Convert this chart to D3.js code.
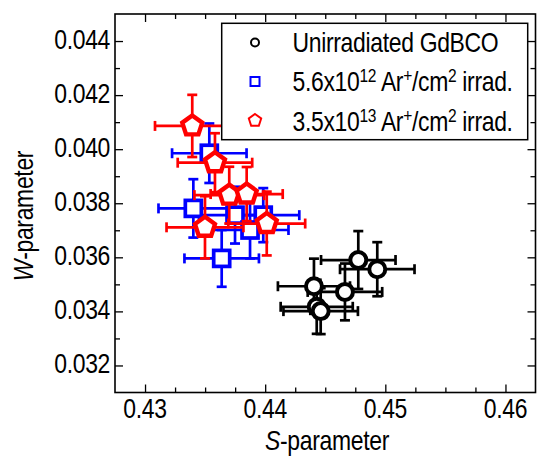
<!DOCTYPE html>
<html><head><meta charset="utf-8">
<script src="https://cdn.jsdelivr.net/npm/d3@7"></script>
<style>
body{margin:0;background:#fff}
svg text{font-family:"Liberation Sans",Arial,sans-serif;fill:#000}
</style>
</head><body>
<svg id="chart" width="537" height="457"></svg>
<script>
// ---- data ----
const seriesNames = ["Unirradiated GdBCO", "5.6x10^12", "3.5x10^13"];
const seriesColors = ["#000000", "#0000ff", "#ff0000"];

const unirrS    = [0.44775, 0.44933, 0.44406, 0.44664, 0.44429, 0.44462];
const unirrW    = [0.03590, 0.03556, 0.03493, 0.03472, 0.03417, 0.03401];
const unirrSErr = [0.0031, 0.0031, 0.0030, 0.0031, 0.0030, 0.0031];
const unirrWErr = [0.00107, 0.00100, 0.00102, 0.00105, 0.00100, 0.00085];

const lowS    = [0.43535, 0.43402, 0.43749, 0.43984, 0.43874, 0.43638];
const lowW    = [0.03985, 0.03781, 0.03756, 0.03756, 0.03701, 0.03596];
const lowSErr = [0.0031, 0.0029, 0.0030, 0.0030, 0.0032, 0.0031];
const lowWErr = [0.00110, 0.00108, 0.00105, 0.00100, 0.00105, 0.00105];

const highS    = [0.43393, 0.43582, 0.43701, 0.43846, 0.43499, 0.44013];
const highW    = [0.04086, 0.03950, 0.03830, 0.03834, 0.03711, 0.03725];
const highSErr = [0.0031, 0.0031, 0.0029, 0.0030, 0.0032, 0.0032];
const highWErr = [0.00115, 0.00109, 0.00105, 0.00100, 0.00115, 0.00118];

const xTickLabels = [0.43, 0.44, 0.45, 0.46];
const yTickLabels = [0.032, 0.034, 0.036, 0.038, 0.040, 0.042, 0.044];
const xDomain = [0.4275, 0.4625];
const yDomain = [0.031, 0.045];

// ---- layout ----
const svg = d3.select("#chart");
const L = 115, R = 535.5, T = 14, B = 392.5;
const x = d3.scaleLinear().domain(xDomain).range([L, R]);
const y = d3.scaleLinear().domain(yDomain).range([B, T]);

const FS = 28, SX = 0.82, LS = "-0.4px";

const xMinor = d3.range(0, 15).map(i => 0.4275 + i * 0.0025).filter(v => v > xDomain[0] + 1e-9 && v < xDomain[1] - 1e-9);
const yMinor = d3.range(0, 15).map(i => 0.031 + i * 0.001).filter(v => v > yDomain[0] + 1e-9 && v < yDomain[1] - 1e-9);
function isMajor(v, arr){ return arr.some(t => Math.abs(t - v) < 1e-7); }

const axG = svg.append("g");
const xAxisB = d3.axisBottom(x).tickValues(xMinor).tickSizeInner(-5).tickSizeOuter(0).tickFormat("");
const xAxisT = d3.axisTop(x).tickValues(xMinor).tickSizeInner(-5).tickSizeOuter(0).tickFormat("");
const yAxisL = d3.axisLeft(y).tickValues(yMinor).tickSizeInner(-5).tickSizeOuter(0).tickFormat("");
const yAxisR = d3.axisRight(y).tickValues(yMinor).tickSizeInner(-5).tickSizeOuter(0).tickFormat("");

function styleAx(g, majors){
  g.select(".domain").remove();
  g.selectAll(".tick line").attr("stroke", "#000").attr("stroke-width", 1.3);
  g.selectAll(".tick").each(function(d){
    if (isMajor(d, majors)) {
      const ln = d3.select(this).select("line");
      if (ln.attr("y2") !== null && +ln.attr("y2") !== 0) ln.attr("y2", +ln.attr("y2") > 0 ? 8 : -8);
      if (ln.attr("x2") !== null && +ln.attr("x2") !== 0) ln.attr("x2", +ln.attr("x2") > 0 ? 8 : -8);
    }
  });
}
axG.append("g").attr("transform", `translate(0,${B})`).call(xAxisB).call(g => styleAx(g, xTickLabels));
axG.append("g").attr("transform", `translate(0,${T})`).call(xAxisT).call(g => styleAx(g, xTickLabels));
axG.append("g").attr("transform", `translate(${L},0)`).call(yAxisL).call(g => styleAx(g, yTickLabels));
axG.append("g").attr("transform", `translate(${R},0)`).call(yAxisR).call(g => styleAx(g, yTickLabels));

svg.append("rect").attr("x", L).attr("y", T).attr("width", R - L).attr("height", B - T)
  .attr("fill", "none").attr("stroke", "#000").attr("stroke-width", 1.6);

// tick labels (condensed via horizontal scale)
svg.append("g").selectAll("text").data(xTickLabels).join("text")
  .attr("transform", d => `translate(${x(d)},418) scale(${SX},1)`).attr("text-anchor", "middle")
  .attr("font-size", FS).attr("letter-spacing", LS)
  .text(d => d3.format(".2f")(d));
svg.append("g").selectAll("text").data(yTickLabels).join("text")
  .attr("transform", d => `translate(110,${y(d) + 7.5}) scale(${SX},1)`).attr("text-anchor", "end")
  .attr("font-size", FS).attr("letter-spacing", LS)
  .text(d => d3.format(".3f")(d));

// axis titles
const xt = svg.append("text").attr("transform", `translate(327,450) scale(${SX},1)`).attr("text-anchor", "middle")
  .attr("font-size", FS).attr("letter-spacing", LS);
xt.append("tspan").attr("font-style", "italic").text("S");
xt.append("tspan").text("-parameter");
const yt = svg.append("text").attr("transform", `translate(32.5,216) rotate(-90) scale(${SX},1)`)
  .attr("text-anchor", "middle").attr("font-size", FS).attr("letter-spacing", LS);
yt.append("tspan").attr("font-style", "italic").text("W");
yt.append("tspan").text("-parameter");

// ---- markers ----
function pentagonPath(r){
  const pts = d3.range(5).map(i => {
    const a = -Math.PI / 2 + i * 2 * Math.PI / 5;
    return [r * Math.cos(a), r * Math.sin(a)];
  });
  return "M" + pts.map(p => p.join(",")).join("L") + "Z";
}
function drawMarker(g, type, color, size, sw){
  if (type === "circle") g.append("circle").attr("r", size).attr("fill", "#fff").attr("stroke", color).attr("stroke-width", sw);
  else if (type === "square") g.append("rect").attr("x", -size).attr("y", -size).attr("width", 2 * size).attr("height", 2 * size)
      .attr("fill", "#fff").attr("stroke", color).attr("stroke-width", sw);
  else g.append("path").attr("d", pentagonPath(size)).attr("fill", "#fff").attr("stroke", color).attr("stroke-width", sw).attr("stroke-linejoin", "miter");
}

function drawSeries(S, W, SE, WE, color, type, size, sw){
  const g = svg.append("g");
  const data = S.map((s, i) => ({s, w: W[i], se: SE[i], we: WE[i]}));
  const cap = 5;
  data.forEach(d => {
    const eg = g.append("g").attr("stroke", color).attr("stroke-width", 2.7);
    eg.append("line").attr("x1", x(d.s - d.se)).attr("x2", x(d.s + d.se)).attr("y1", y(d.w)).attr("y2", y(d.w));
    eg.append("line").attr("x1", x(d.s)).attr("x2", x(d.s)).attr("y1", y(d.w - d.we)).attr("y2", y(d.w + d.we));
    eg.append("line").attr("x1", x(d.s - d.se)).attr("x2", x(d.s - d.se)).attr("y1", y(d.w) - cap).attr("y2", y(d.w) + cap);
    eg.append("line").attr("x1", x(d.s + d.se)).attr("x2", x(d.s + d.se)).attr("y1", y(d.w) - cap).attr("y2", y(d.w) + cap);
    eg.append("line").attr("y1", y(d.w - d.we)).attr("y2", y(d.w - d.we)).attr("x1", x(d.s) - cap).attr("x2", x(d.s) + cap);
    eg.append("line").attr("y1", y(d.w + d.we)).attr("y2", y(d.w + d.we)).attr("x1", x(d.s) - cap).attr("x2", x(d.s) + cap);
  });
  data.forEach(d => {
    const mg = g.append("g").attr("transform", `translate(${x(d.s)},${y(d.w)})`);
    drawMarker(mg, type, color, size, sw);
  });
}

drawSeries(lowS, lowW, lowSErr, lowWErr, seriesColors[1], "square", 8, 3.7);
drawSeries(highS, highW, highSErr, highWErr, seriesColors[2], "pentagon", 10.5, 4.4);
drawSeries(unirrS, unirrW, unirrSErr, unirrWErr, seriesColors[0], "circle", 8, 4);

// ---- legend ----
const lg = svg.append("g");
lg.append("rect").attr("x", 221.7).attr("y", 23.3).attr("width", 306).attr("height", 116.4)
  .attr("fill", "#fff").attr("stroke", "#000").attr("stroke-width", 1.5);
const symY = [42.5, 81.5, 120.5];
const baseY = [51.5, 91, 130.5];
const types = ["circle", "square", "pentagon"];
const sizes = [4, 4.5, 6.5];
symY.forEach((ry, i) => {
  const mg = lg.append("g").attr("transform", `translate(255,${ry})`);
  drawMarker(mg, types[i], seriesColors[i], sizes[i], 2);
});
function legText(by){
  return lg.append("text").attr("transform", `translate(292.5,${by}) scale(${SX},1)`)
    .attr("font-size", FS).attr("letter-spacing", LS);
}
legText(baseY[0]).text(seriesNames[0]);
[1, 2].forEach(i => {
  const parts = seriesNames[i].split("^");
  const t = legText(baseY[i]);
  const SUP = 19, DY = 9;
  t.append("tspan").text(parts[0]);
  t.append("tspan").attr("font-size", SUP).attr("dy", -DY).text(parts[1]);
  t.append("tspan").attr("dy", DY).text(" Ar");
  t.append("tspan").attr("font-size", SUP).attr("dy", -DY).text("+");
  t.append("tspan").attr("dy", DY).text("/cm");
  t.append("tspan").attr("font-size", SUP).attr("dy", -DY).text("2");
  t.append("tspan").attr("dy", DY).text(" irrad.");
});
</script>
</body></html>
